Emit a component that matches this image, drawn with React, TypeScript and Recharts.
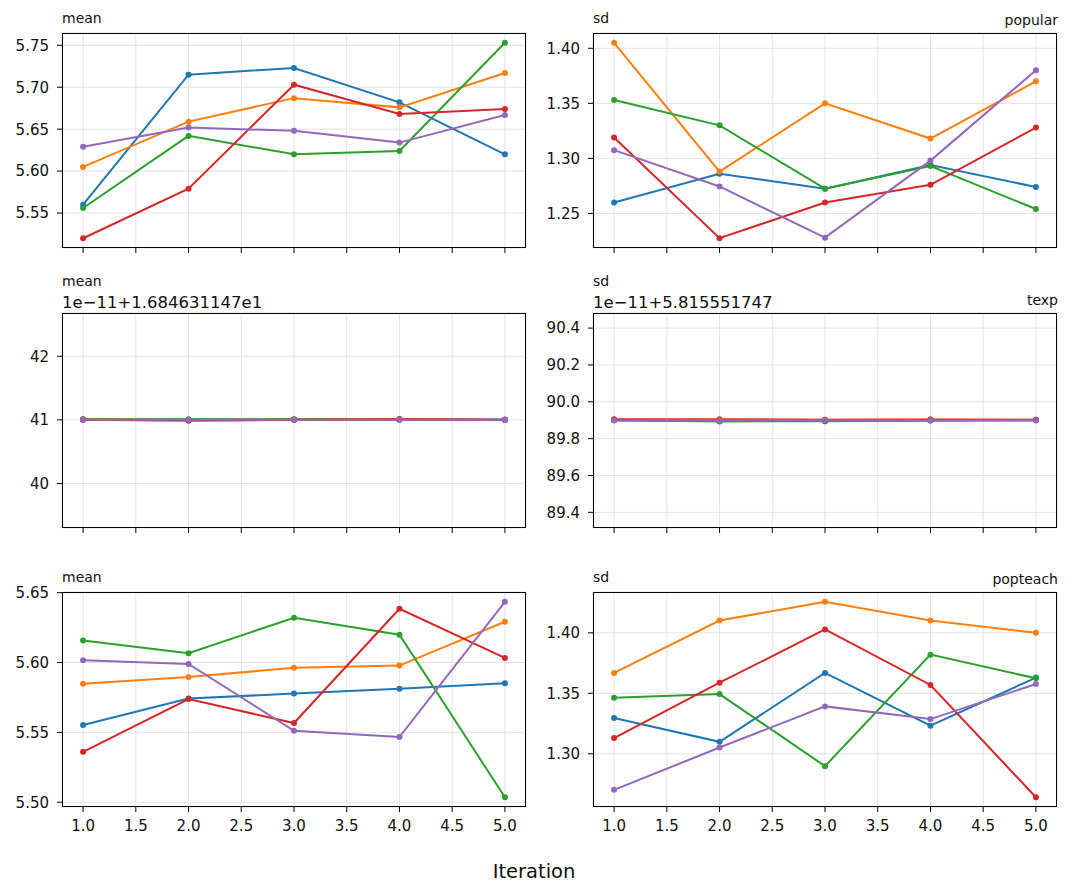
import { LineChart, Line, XAxis, YAxis, CartesianGrid } from "recharts";

// x positions shared by every panel
const ITERATIONS = [1, 2, 3, 4, 5];
const X_TICKS = [1, 1.5, 2, 2.5, 3, 3.5, 4, 4.5, 5];

// tab10 cycle, one colour per run
const COLORS = ["#1f77b4", "#ff7f0e", "#2ca02c", "#d62728", "#9467bd"];

// popular
const popularMean = [
  [5.56, 5.715, 5.723, 5.682, 5.62],
  [5.605, 5.659, 5.687, 5.676, 5.717],
  [5.556, 5.642, 5.62, 5.624, 5.753],
  [5.52, 5.579, 5.703, 5.668, 5.674],
  [5.629, 5.652, 5.648, 5.634, 5.667],
];
const popularSd = [
  [1.26, 1.286, 1.2725, 1.294, 1.274],
  [1.405, 1.288, 1.35, 1.318, 1.37],
  [1.353, 1.33, 1.2725, 1.293, 1.254],
  [1.319, 1.2275, 1.26, 1.276, 1.328],
  [1.3075, 1.2745, 1.228, 1.298, 1.38],
];

// texp (values in units of 1e-11 above the offset)
const texpMean = [
  [41.0, 41.0, 41.0, 41.0, 41.0],
  [41.01, 41.005, 41.005, 41.0, 41.0],
  [41.01, 41.01, 41.01, 41.005, 41.0],
  [41.0, 40.985, 41.0, 41.015, 41.0],
  [41.0, 41.0, 41.0, 41.0, 41.0],
];
const texpSd = [
  [89.9, 89.896, 89.896, 89.898, 89.9],
  [89.903, 89.905, 89.902, 89.905, 89.902],
  [89.9, 89.893, 89.895, 89.898, 89.9],
  [89.905, 89.904, 89.903, 89.902, 89.902],
  [89.9, 89.9, 89.9, 89.9, 89.9],
];

// popteach
const popteachMean = [
  [5.5553, 5.5742, 5.5778, 5.5813, 5.5852],
  [5.5849, 5.5897, 5.5962, 5.5978, 5.6292],
  [5.6158, 5.6067, 5.6321, 5.6199, 5.5036],
  [5.5361, 5.5739, 5.5567, 5.6385, 5.6033],
  [5.6017, 5.599, 5.5512, 5.5467, 5.6435],
];
const popteachSd = [
  [1.3296, 1.3099, 1.3669, 1.3232, 1.363],
  [1.3669, 1.4102, 1.4257, 1.4102, 1.4],
  [1.3464, 1.3494, 1.2898, 1.382, 1.3624],
  [1.313, 1.3588, 1.4028, 1.3569, 1.2641],
  [1.2702, 1.3052, 1.3392, 1.3287, 1.3577],
];

const FONT = "'DejaVu Sans', sans-serif";
const YW = 62; // room for y tick labels
const AW = 464; // axes box width
const AH = 215; // axes box height
const MT = 10;
const MR = 10;
const XH = 40;

const COL_X = [62, 593];
const ROW_Y = [33, 313, 592];

// 5% margin around the data, like matplotlib autoscaling
function padded(series: number[][]): [number, number] {
  const all = series.flat();
  const lo = Math.min(...all);
  const hi = Math.max(...all);
  const m = (hi - lo) * 0.05;
  return [lo - m, hi + m];
}

type PanelProps = {
  left: number;
  top: number;
  series: number[][];
  yTicks: number[];
  yDomain: [number, number];
  fmt: (v: number) => string;
  xLabels?: boolean;
};

function Panel({ left, top, series, yTicks, yDomain, fmt, xLabels }: PanelProps) {
  const rows = ITERATIONS.map((it, i) => {
    const r: Record<string, number> = { it };
    series.forEach((s, k) => {
      r[`s${k}`] = s[i];
    });
    return r;
  });
  const tickStyle = { fontSize: 15, fill: "#111", fontFamily: FONT };
  return (
    <div style={{ position: "absolute", left: left - YW, top: top - MT }}>
      <LineChart
        width={YW + AW + MR}
        height={MT + AH + XH}
        data={rows}
        margin={{ top: MT, right: MR, bottom: 0, left: 0 }}
      >
        <CartesianGrid stroke="#e3e3e3" strokeWidth={1} />
        <XAxis
          dataKey="it"
          type="number"
          domain={[0.8, 5.2]}
          ticks={X_TICKS}
          allowDataOverflow
          interval={0}
          height={XH}
          axisLine={false}
          tickSize={5}
          tickMargin={8}
          tickLine={{ stroke: "#000" }}
          tick={tickStyle}
          tickFormatter={(v: number) => (xLabels ? v.toFixed(1) : "")}
        />
        <YAxis
          type="number"
          domain={yDomain}
          ticks={yTicks}
          allowDataOverflow
          interval={0}
          width={YW}
          axisLine={false}
          tickSize={5}
          tickMargin={8}
          tickLine={{ stroke: "#000" }}
          tick={tickStyle}
          tickFormatter={fmt}
        />
        {series.map((_, k) => (
          <Line
            key={k}
            dataKey={`s${k}`}
            stroke={COLORS[k]}
            strokeWidth={2}
            dot={{ r: 3, fill: COLORS[k], stroke: "none" }}
            activeDot={false}
            isAnimationActive={false}
          />
        ))}
      </LineChart>
      <div
        style={{
          position: "absolute",
          left: YW,
          top: MT,
          width: AW,
          height: AH,
          border: "1px solid #000",
          boxSizing: "border-box",
          pointerEvents: "none",
        }}
      />
    </div>
  );
}

const two = (v: number) => v.toFixed(2);
const one = (v: number) => v.toFixed(1);
const whole = (v: number) => v.toFixed(0);

export default function App() {
  return (
    <div
      style={{
        position: "absolute",
        left: 0,
        top: 0,
        width: 1068,
        height: 895,
        background: "#fff",
        fontFamily: FONT,
      }}
    >
      <Panel left={COL_X[0]} top={ROW_Y[0]} series={popularMean} yTicks={[5.55, 5.6, 5.65, 5.7, 5.75]} yDomain={padded(popularMean)} fmt={two} />
      <Panel left={COL_X[1]} top={ROW_Y[0]} series={popularSd} yTicks={[1.25, 1.3, 1.35, 1.4]} yDomain={padded(popularSd)} fmt={two} />
      <Panel left={COL_X[0]} top={ROW_Y[1]} series={texpMean} yTicks={[40, 41, 42]} yDomain={[39.3, 42.68]} fmt={whole} />
      <Panel left={COL_X[1]} top={ROW_Y[1]} series={texpSd} yTicks={[89.4, 89.6, 89.8, 90.0, 90.2, 90.4]} yDomain={[89.315, 90.482]} fmt={one} />
      <Panel left={COL_X[0]} top={ROW_Y[2]} series={popteachMean} yTicks={[5.5, 5.55, 5.6, 5.65]} yDomain={padded(popteachMean)} fmt={two} xLabels />
      <Panel left={COL_X[1]} top={ROW_Y[2]} series={popteachSd} yTicks={[1.3, 1.35, 1.4]} yDomain={padded(popteachSd)} fmt={two} xLabels />

      <svg
        width={1068}
        height={895}
        style={{ position: "absolute", left: 0, top: 0, pointerEvents: "none" }}
        fontFamily={FONT}
        fill="#111"
      >
        {/* per-panel statistic names */}
        <text x={62} y={23} fontSize={14}>mean</text>
        <text x={593} y={23} fontSize={14}>sd</text>
        <text x={62} y={286} fontSize={14}>mean</text>
        <text x={593} y={286} fontSize={14}>sd</text>
        <text x={62} y={582} fontSize={14}>mean</text>
        <text x={593} y={582} fontSize={14}>sd</text>

        {/* variable names, right aligned over the sd column */}
        <text x={1058} y={25} fontSize={14} textAnchor="end">popular</text>
        <text x={1058} y={305} fontSize={14} textAnchor="end">texp</text>
        <text x={1058} y={584} fontSize={14} textAnchor="end">popteach</text>

        {/* offsets for the nearly constant texp panels */}
        <text x={62} y={308} fontSize={16.5}>1e−11+1.684631147e1</text>
        <text x={593} y={308} fontSize={16.5}>1e−11+5.815551747</text>

        <text x={534} y={878} fontSize={19.5} textAnchor="middle">Iteration</text>
      </svg>
    </div>
  );
}
